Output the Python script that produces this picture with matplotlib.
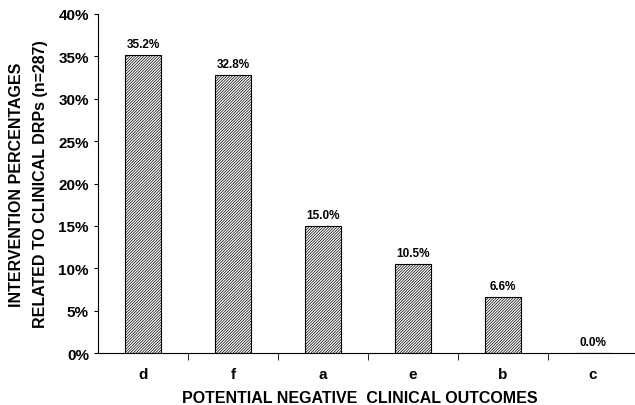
import numpy as np
import matplotlib.pyplot as plt
from matplotlib.ticker import FuncFormatter

# データ
categories = ['d', 'f', 'a', 'e', 'b', 'c']
percentages = [35.2, 32.8, 15.0, 10.5, 6.6, 0.0]

plt.rcParams['font.family'] = ['Liberation Sans', 'DejaVu Sans']
plt.rcParams['hatch.linewidth'] = 0.5
plt.rcParams['hatch.color'] = '#444444'

fig = plt.figure(figsize=(6.35, 4.06), dpi=100)
# 軸の位置 (ピクセルから換算)
ax = fig.add_axes([98 / 635, 1 - 354 / 406, 540 / 635, 339 / 406])

x = np.arange(len(categories))
ax.bar(x, percentages, width=0.4, color='white', edgecolor='black',
       hatch='/' * 12, linewidth=0.8)

# 棒の上に値を表示
for xi, v in zip(x, percentages):
    ax.text(xi, v + 0.6, '{:.1f}%'.format(v), ha='center', va='bottom',
            fontsize=8.5, fontweight='bold')

ax.set_xlim(-0.5, len(categories) - 0.5)
ax.set_ylim(0, 40)
ax.set_yticks(np.arange(0, 41, 5))
ax.yaxis.set_major_formatter(FuncFormatter(lambda v, p: '{:.0f}%'.format(v)))
ax.set_xticks(x)
ax.set_xticklabels(categories)
ax.set_xticks(np.arange(0.5, len(categories) - 0.5, 1), minor=True)
ax.tick_params(axis='x', which='major', length=0, pad=10, labelsize=11)
ax.tick_params(axis='x', which='minor', length=5, direction='out')
ax.tick_params(axis='y', length=3, labelsize=11)
for lbl in ax.get_xticklabels() + ax.get_yticklabels():
    lbl.set_fontweight('bold')

ax.spines['top'].set_visible(False)
ax.spines['right'].set_visible(False)

ax.set_xlabel('POTENTIAL NEGATIVE  CLINICAL OUTCOMES', fontsize=11.5,
              fontweight='bold')
ax.xaxis.set_label_coords((360 - 98) / 540, -37 / 339)
ax.set_ylabel('INTERVENTION PERCENTAGES\nRELATED TO CLINICAL DRPs (n=287)',
              fontsize=11.5, fontweight='bold', linespacing=1.75)
ax.yaxis.set_label_coords(-50 / 540, 0.5)

fig.savefig('out.png', dpi=100)
